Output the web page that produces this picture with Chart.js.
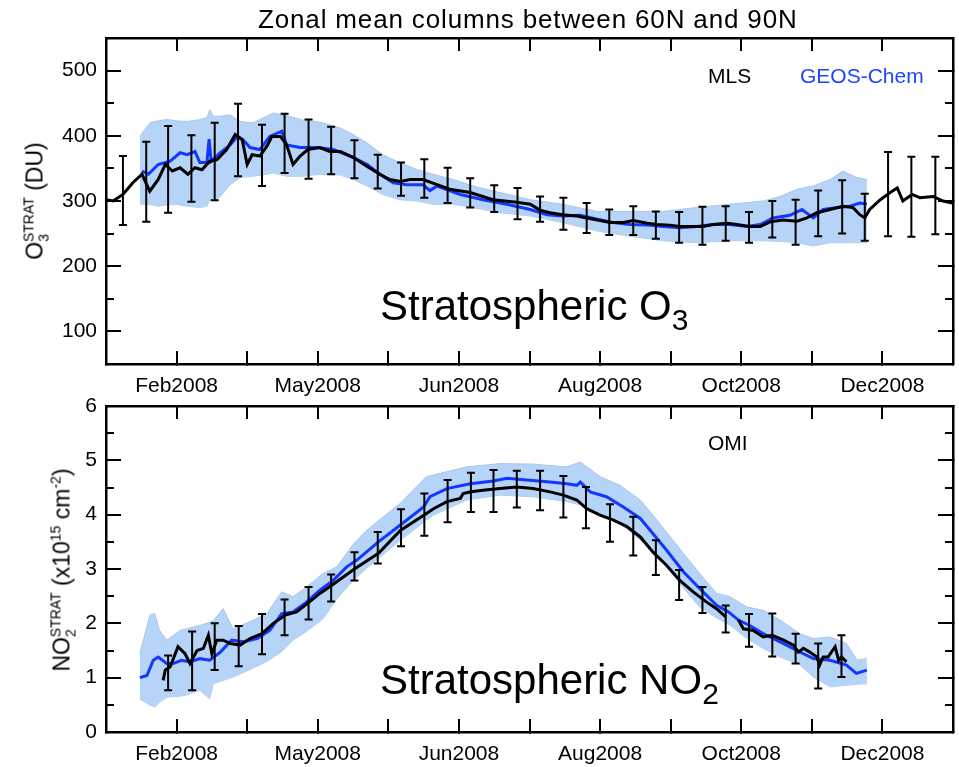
<!DOCTYPE html>
<html>
<head>
<meta charset="utf-8">
<script src="https://cdn.jsdelivr.net/npm/chart.js@4.4.1/dist/chart.umd.min.js"></script>
<style>
  html, body { margin: 0; padding: 0; background: #fff; }
  #page { position: relative; width: 959px; height: 767px; overflow: hidden;
          font-family: "Liberation Sans", Arial, Helvetica, sans-serif; color: #000; }
  canvas { position: absolute; left: 0; }
  .txt { position: absolute; white-space: nowrap; line-height: 1; }
  .ytitle { position: absolute; white-space: nowrap; line-height: 1; font-size: 23px;
            transform: translate(-50%, -50%) rotate(-90deg); }
  .ytitle sup, .ytitle sub { font-size: 14px; line-height: 0; }
  .big sub { font-size: 30px; line-height: 0; vertical-align: -10px; }
</style>
</head>
<body>
<div id="page">
  <canvas id="o3" width="959" height="400" style="top:0"></canvas>
  <canvas id="no2" width="959" height="382" style="top:385px"></canvas>

  <div class="txt" style="left:258px; top:6px; font-size:26px; letter-spacing:0.85px">Zonal mean columns between 60N and 90N</div>
  <div class="txt" style="left:708px; top:65px; font-size:21px">MLS</div>
  <div class="txt" style="left:800px; top:65px; font-size:21px; color:#1f45ff">GEOS-Chem</div>
  <div class="txt big" style="left:380px; top:285px; font-size:42px">Stratospheric O<sub>3</sub></div>
  <div class="txt" style="left:708px; top:432px; font-size:21px">OMI</div>
  <div class="txt big" style="left:380px; top:659px; font-size:42px">Stratospheric NO<sub>2</sub></div>

  <div class="ytitle" style="left:35px; top:201px">O<sub>3</sub><sup style="margin-left:-8px">STRAT</sup> (DU)</div>
  <div class="ytitle" style="left:62px; top:570px">NO<sub>2</sub><sup style="margin-left:-8px">STRAT</sup> (x10<sup>15</sup> cm<sup>-2</sup>)</div>
</div>

<script>
// x axis is in months since 1 Jan 2008 (0..12)
const monthTicks = [0, 1, 2, 3, 4, 5, 6, 7, 8, 9, 10, 11, 12];
const monthLabels = ['', 'Feb2008', '', 'May2008', '', 'Jun2008', '', 'Aug2008', '', 'Oct2008', '', 'Dec2008', ''];

const o3Ticks = [100, 200, 300, 400, 500];
const o3MinorTicks = [150, 250, 350, 450];
const no2Ticks = [0, 1, 2, 3, 4, 5, 6];
const no2MinorTicks = [0.5, 1.5, 2.5, 3.5, 4.5, 5.5];

// --- stratospheric O3 (DU) ---
const o3MlsX = [0.00, 0.10, 0.24, 0.38, 0.51, 0.62, 0.74, 0.84, 0.94, 1.05, 1.16, 1.26, 1.36, 1.47, 1.57, 1.71, 1.83, 1.93, 2.00, 2.07,
  2.18, 2.28, 2.35, 2.47, 2.56, 2.65, 2.75, 2.86, 3.03, 3.17, 3.32, 3.50, 3.70, 3.88, 4.02, 4.17, 4.31, 4.49, 4.69, 4.87,
  5.16, 5.48, 5.82, 6.01, 6.15, 6.29, 6.47, 6.67, 6.81, 6.96, 7.14, 7.33, 7.47, 7.67, 7.81, 7.99, 8.13, 8.32, 8.46, 8.60,
  8.80, 8.94, 9.12, 9.27, 9.41, 9.59, 9.79, 9.93, 10.07, 10.26, 10.44, 10.58, 10.68, 10.75, 10.82, 10.97, 11.11, 11.21, 11.29, 11.42,
  11.53, 11.72, 11.86, 11.99];
const o3MlsY = [302, 300, 310, 328, 341, 315, 333, 356, 346, 351, 341, 351, 348, 361, 363, 379, 402, 394, 356, 371,
  369, 384, 399, 399, 386, 356, 369, 379, 382, 376, 376, 367, 353, 341, 333, 330, 333, 333, 325, 318,
  313, 302, 298, 295, 286, 282, 279, 277, 274, 271, 267, 267, 270, 266, 264, 263, 261, 261, 261, 264,
  266, 264, 261, 261, 268, 271, 269, 274, 282, 287, 292, 290, 279, 274, 287, 302, 313, 320, 300, 310,
  305, 307, 300, 297];

const o3GcX = [0.51, 0.60, 0.74, 0.91, 1.05, 1.15, 1.26, 1.33, 1.43, 1.46, 1.49, 1.62, 1.76, 1.86, 1.94, 2.04, 2.18, 2.32, 2.49, 2.56,
  2.75, 2.99, 3.22, 3.50, 3.70, 3.88, 4.07, 4.26, 4.49, 4.59, 4.69, 5.02, 5.34, 5.68, 6.01, 6.25, 6.47, 6.72, 6.96, 7.18,
  7.42, 7.67, 7.89, 8.13, 8.37, 8.60, 8.84, 9.08, 9.27, 9.45, 9.69, 9.86, 10.02, 10.16, 10.36, 10.54, 10.68, 10.78];
const o3GcY = [346, 341, 356, 361, 374, 371, 376, 359, 359, 395, 361, 374, 386, 399, 394, 382, 379, 399, 407, 386,
  382, 382, 379, 367, 356, 341, 328, 325, 325, 316, 323, 310, 302, 295, 287, 279, 277, 278, 272, 267,
  264, 263, 261, 259, 261, 264, 264, 261, 264, 274, 278, 287, 274, 287, 290, 292, 297, 295];

const o3BandX = [0.48, 0.62, 0.74, 0.86, 0.98, 1.15, 1.33, 1.43, 1.47, 1.52, 1.62, 1.76, 1.90, 2.08, 2.22, 2.37, 2.56, 2.79, 3.03, 3.32,
  3.50, 3.70, 3.92, 4.16, 4.41, 4.63, 4.92, 5.20, 5.58, 6.01, 6.47, 6.96, 7.42, 7.89, 8.37, 8.84, 9.31, 9.55, 9.79, 10.02,
  10.26, 10.44, 10.64, 10.78];
const o3BandHi = [399, 420, 423, 425, 423, 422, 425, 428, 440, 430, 430, 432, 422, 420, 427, 435, 431, 424, 421, 412,
  402, 389, 371, 359, 348, 341, 333, 323, 313, 302, 295, 284, 284, 284, 290, 295, 300, 307, 318, 323,
  333, 346, 336, 333];
const o3BandLo = [295, 295, 292, 294, 295, 292, 290, 292, 302, 300, 307, 325, 336, 338, 340, 343, 338, 338, 341, 340,
  333, 323, 310, 302, 300, 295, 295, 290, 282, 277, 267, 254, 246, 239, 236, 239, 239, 238, 236, 231,
  236, 236, 236, 236];

const o3ErrX = [0.24, 0.57, 0.88, 1.21, 1.54, 1.87, 2.21, 2.53, 2.87, 3.19, 3.52, 3.85, 4.18, 4.51, 4.84, 5.16, 5.50, 5.83,
  6.15, 6.48, 6.81, 7.13, 7.47, 7.79, 8.12, 8.45, 8.78, 9.11, 9.44, 9.77, 10.09, 10.43, 10.75, 11.08, 11.41, 11.75];
const o3ErrLo = [263, 268, 282, 299, 301, 338, 323, 343, 334, 341, 335, 319, 308, 305, 297, 290, 283, 272,
  268, 256, 251, 248, 248, 242, 236, 233, 239, 236, 244, 233, 246, 250, 239, 246, 245, 249];
const o3ErrHi = [369, 391, 415, 401, 420, 449, 417, 434, 425, 414, 393, 371, 359, 364, 351, 335, 324, 320,
  307, 305, 297, 287, 292, 284, 283, 291, 292, 283, 300, 302, 316, 332, 311, 375, 368, 368];

// --- stratospheric NO2 (x10^15 cm^-2) ---
const no2OmiX = [0.81, 0.84, 0.91, 1.02, 1.12, 1.19, 1.29, 1.38, 1.45, 1.50, 1.57, 1.66, 1.76, 1.90, 2.04, 2.21, 2.37, 2.54, 2.70, 2.87,
  3.03, 3.20, 3.53, 3.86, 4.17, 4.54, 4.64, 4.83, 5.02, 5.06, 5.17, 5.34, 5.58, 5.82, 6.05, 6.29, 6.48, 6.67, 6.81, 7.00,
  7.19, 7.38, 7.57, 7.75, 7.94, 8.13, 8.32, 8.51, 8.65, 8.78, 8.87, 8.96, 9.03, 9.17, 9.31, 9.44, 9.60, 9.74, 9.81, 9.88,
  9.97, 10.07, 10.11, 10.16, 10.23, 10.33, 10.38, 10.42, 10.49];
const no2OmiY = [0.95, 1.14, 1.20, 1.57, 1.44, 1.26, 1.50, 1.54, 1.78, 1.44, 1.69, 1.69, 1.63, 1.60, 1.72, 1.81, 2.00, 2.15, 2.21, 2.38,
  2.55, 2.70, 3.01, 3.29, 3.71, 4.02, 4.11, 4.24, 4.30, 4.39, 4.42, 4.45, 4.48, 4.51, 4.48, 4.42, 4.36, 4.27, 4.11, 3.99,
  3.90, 3.78, 3.59, 3.31, 3.07, 2.79, 2.58, 2.39, 2.27, 2.12, null, 2.06, 1.90, 1.87, 1.75, 1.78, 1.69, 1.60, 1.47, 1.54,
  1.47, 1.38, 1.23, 1.38, 1.38, 1.57, 1.32, 1.38, 1.29];

const no2GcX = [0.48, 0.58, 0.67, 0.74, 0.86, 0.95, 1.07, 1.19, 1.33, 1.47, 1.62, 1.78, 1.95, 2.14, 2.32, 2.49, 2.65, 2.84, 3.03, 3.22,
  3.41, 3.55, 3.86, 4.17, 4.50, 4.59, 4.83, 5.16, 5.49, 5.68, 5.96, 6.29, 6.53, 6.67, 6.72, 6.86, 7.09, 7.33, 7.57, 7.75,
  7.94, 8.18, 8.41, 8.65, 8.82, 8.96, 9.12, 9.31, 9.55, 9.79, 10.02, 10.26, 10.49, 10.63, 10.78];
const no2GcY = [1.00, 1.04, 1.32, 1.38, 1.26, 1.26, 1.32, 1.29, 1.35, 1.32, 1.47, 1.69, 1.66, 1.72, 1.87, 2.18, 2.21, 2.39, 2.61, 2.79,
  3.04, 3.16, 3.50, 3.81, 4.14, 4.33, 4.48, 4.57, 4.62, 4.67, 4.64, 4.60, 4.57, 4.54, 4.60, 4.42, 4.33, 4.14, 3.93, 3.65,
  3.35, 2.95, 2.64, 2.33, 2.21, 2.06, 1.96, 1.81, 1.66, 1.50, 1.35, 1.32, 1.23, 1.08, 1.14];

const no2BandX = [0.48, 0.62, 0.69, 0.76, 0.86, 1.05, 1.14, 1.33, 1.47, 1.52, 1.66, 1.80, 2.04, 2.28, 2.49, 2.65, 2.84, 3.08, 3.27, 3.50,
  3.69, 4.17, 4.54, 4.64, 5.11, 5.58, 6.05, 6.53, 6.72, 7.00, 7.28, 7.57, 7.75, 7.94, 8.18, 8.41, 8.65, 8.84, 9.08, 9.31,
  9.55, 9.83, 10.02, 10.26, 10.49, 10.64, 10.78];
const no2BandHi = [1.44, 2.15, 2.18, 1.87, 1.69, 1.87, 1.90, 1.96, 2.02, 2.05, 2.27, 1.90, 2.03, 2.18, 2.58, 2.49, 2.67, 2.92, 3.04, 3.45,
  3.71, 4.21, 4.70, 4.73, 4.88, 4.94, 4.93, 4.88, 4.97, 4.70, 4.54, 4.27, 3.99, 3.68, 3.29, 2.92, 2.55, 2.49, 2.30, 2.24,
  2.06, 1.81, 1.72, 1.75, 1.63, 1.32, 1.35];
const no2BandLo = [0.61, 0.50, 0.46, 0.55, 0.64, 0.66, 0.68, 0.77, 0.61, 0.89, 0.95, 1.01, 1.15, 1.30, 1.48, 1.69, 1.85, 2.09, 2.45, 2.79,
  3.01, 3.53, 3.90, 3.99, 4.27, 4.36, 4.33, 4.24, 4.18, 4.02, 3.84, 3.53, 3.35, 3.05, 2.65, 2.30, 2.10, 1.97, 1.72, 1.54,
  1.38, 1.24, 1.01, 0.83, 0.86, 0.88, 0.89];

const no2ErrX = [0.88, 1.22, 1.54, 1.88, 2.21, 2.53, 2.87, 3.19, 3.52, 3.85, 4.18, 4.51, 4.84, 5.17, 5.49, 5.82, 6.15, 6.48,
  6.80, 7.14, 7.47, 7.79, 8.12, 8.45, 8.78, 9.11, 9.44, 9.77, 10.09, 10.42];
const no2ErrLo = [0.77, 0.77, 1.14, 1.21, 1.43, 1.78, 2.07, 2.40, 2.79, 3.10, 3.42, 3.61, 3.86, 4.05, 4.05, 4.13, 4.08, 3.95,
  3.75, 3.50, 3.25, 2.89, 2.43, 2.19, 1.83, 1.57, 1.39, 1.26, 0.80, 1.01];
const no2ErrHi = [1.41, 1.85, 2.00, 1.95, 2.17, 2.44, 2.67, 2.90, 3.31, 3.68, 4.10, 4.39, 4.64, 4.77, 4.82, 4.81, 4.81, 4.71,
  4.51, 4.19, 3.96, 3.53, 2.98, 2.67, 2.33, 2.17, 2.18, 1.81, 1.63, 1.78];

const FONT = '"Liberation Sans", Arial, Helvetica, sans-serif';
const GC_BLUE = '#1437ff';
const BAND_FILL = '#b6d4f7';
const BAND_EDGE = '#a9c6e8';

function pts(xs, ys) {
  return xs.map(function (x, i) { return { x: x, y: ys[i] }; });
}

function setTicks(values) {
  return function (s) { s.ticks = values.map(function (v) { return { value: v }; }); };
}

// fixed axis size; zero the label overhang so the plot box stays where the padding puts it
function fixSize(size) {
  return function (s) {
    if (s.isHorizontal()) s.height = size; else s.width = size;
    s.paddingLeft = s.paddingRight = s.paddingTop = s.paddingBottom = 0;
  };
}

// IDL look: ticks point into the plot box (negative tick length)
function tickGrid(len) {
  return { display: true, drawOnChartArea: false, drawTicks: true, tickLength: -len, color: '#000', lineWidth: 2 };
}

// extra zero-size axis used only to put inward ticks on another side of the box
function markScale(position, min, max, values, len, weight, withBorder) {
  return {
    type: 'linear', position: position, axis: (position === 'top' || position === 'bottom') ? 'x' : 'y',
    min: min, max: max, weight: weight,
    afterBuildTicks: setTicks(values),
    afterFit: fixSize(0),
    grid: tickGrid(len),
    border: { display: withBorder, width: 2.5, color: '#000' },
    ticks: { display: false }
  };
}

// vertical error bars with short caps, positioned through the chart scales
function makeErrorBars(xs, lo, hi) {
  return {
    id: 'errorBars',
    afterDatasetsDraw(chart) {
      const ctx = chart.ctx, sx = chart.scales.x, sy = chart.scales.y;
      ctx.save();
      ctx.strokeStyle = '#000';
      ctx.lineWidth = 2;
      ctx.beginPath();
      xs.forEach(function (v, i) {
        const px = sx.getPixelForValue(v);
        const top = sy.getPixelForValue(hi[i]), bot = sy.getPixelForValue(lo[i]);
        ctx.moveTo(px, top); ctx.lineTo(px, bot);
        ctx.moveTo(px - 4, top); ctx.lineTo(px + 4, top);
        ctx.moveTo(px - 4, bot); ctx.lineTo(px + 4, bot);
      });
      ctx.stroke();
      ctx.restore();
    }
  };
}

function buildChart(id, o) {
  return new Chart(document.getElementById(id).getContext('2d'), {
    type: 'line',
    data: {
      datasets: [
        { data: pts(o.lineX, o.lineY), borderColor: '#000', borderWidth: 3, order: 0, spanGaps: false },
        { data: pts(o.gcX, o.gcY), borderColor: GC_BLUE, borderWidth: 3, order: 1 },
        { data: pts(o.bandX, o.bandHi), borderColor: BAND_EDGE, borderWidth: 1, backgroundColor: BAND_FILL, fill: '+1', order: 2 },
        { data: pts(o.bandX, o.bandLo), borderColor: BAND_EDGE, borderWidth: 1, fill: false, order: 3 }
      ]
    },
    options: {
      responsive: false,
      animation: false,
      devicePixelRatio: 1,
      elements: { point: { radius: 0 }, line: { tension: 0 } },
      layout: { padding: { top: o.padTop, right: 6, left: 0, bottom: 0 } },
      plugins: { legend: { display: false }, tooltip: { enabled: false }, title: { display: false } },
      scales: {
        x: {
          type: 'linear', position: 'bottom', min: 0, max: 12,
          afterBuildTicks: setTicks(monthTicks),
          afterFit: fixSize(o.xHeight),
          grid: tickGrid(13),
          border: { display: true, width: 2.5, color: '#000' },
          ticks: {
            autoSkip: false, maxRotation: 0, padding: 23, color: '#000',
            font: { family: FONT, size: 21 },
            callback: function (v) { return monthLabels[monthTicks.indexOf(v)]; }
          }
        },
        xTop: markScale('top', 0, 12, monthTicks, 13, 0, true),
        y: {
          type: 'linear', position: 'left', min: o.yMin, max: o.yMax, weight: 1,
          afterBuildTicks: setTicks(o.yTicks),
          afterFit: fixSize(106),
          grid: tickGrid(15),
          border: { display: true, width: 2.5, color: '#000' },
          ticks: { padding: 24, color: '#000', font: { family: FONT, size: 21 } }
        },
        yMinor: markScale('left', o.yMin, o.yMax, o.yMinor, 8, 0, false),
        yRight: markScale('right', o.yMin, o.yMax, o.yTicks, 15, 0, true),
        yRightMinor: markScale('right', o.yMin, o.yMax, o.yMinor, 8, 1, false)
      }
    },
    plugins: [makeErrorBars(o.errX, o.errLo, o.errHi)]
  });
}

buildChart('o3', {
  lineX: o3MlsX, lineY: o3MlsY, gcX: o3GcX, gcY: o3GcY,
  bandX: o3BandX, bandHi: o3BandHi, bandLo: o3BandLo,
  errX: o3ErrX, errLo: o3ErrLo, errHi: o3ErrHi,
  yMin: 50, yMax: 550, yTicks: o3Ticks, yMinor: o3MinorTicks, padTop: 38, xHeight: 36
});

buildChart('no2', {
  lineX: no2OmiX, lineY: no2OmiY, gcX: no2GcX, gcY: no2GcY,
  bandX: no2BandX, bandHi: no2BandHi, bandLo: no2BandLo,
  errX: no2ErrX, errLo: no2ErrLo, errHi: no2ErrHi,
  yMin: 0, yMax: 6, yTicks: no2Ticks, yMinor: no2MinorTicks, padTop: 21, xHeight: 35
});
</script>
</body>
</html>
